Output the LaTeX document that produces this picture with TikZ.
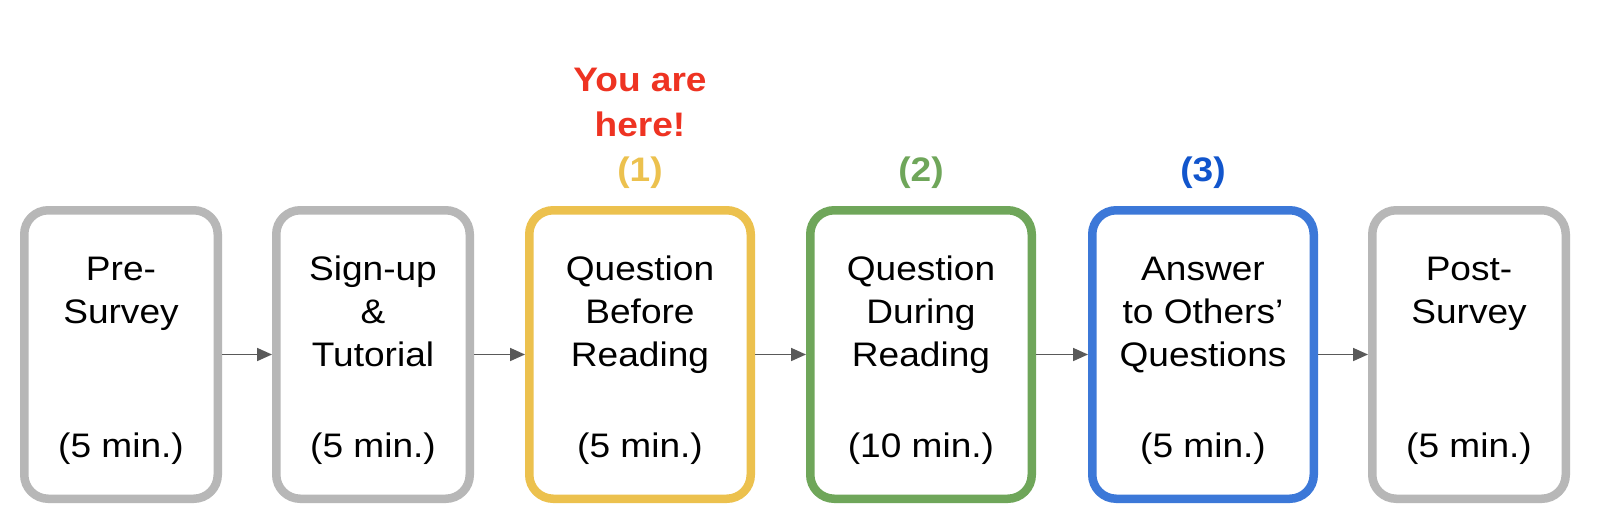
\documentclass[tikz,border=0pt]{standalone}
\usepackage{fontspec}
\setmainfont{Liberation Sans}[FakeStretch=1.09]
\usetikzlibrary{arrows.meta}
\definecolor{boxgray}{HTML}{B7B7B7}
\definecolor{boxyellow}{HTML}{ECC14E}
\definecolor{boxgreen}{HTML}{6FA65A}
\definecolor{boxblue}{HTML}{3C78D8}
\definecolor{numblue}{HTML}{1155CC}
\definecolor{herered}{HTML}{EE3322}
\definecolor{arrowgray}{HTML}{595959}
\newcommand\mystack[1]{\vtop{\halign{\hfil##\hfil\cr #1\crcr}}}
\begin{document}
\begin{tikzpicture}[x=1pt,y=-1pt,
  stagebox/.style={draw, line width=8.5pt, rounded corners=24pt, minimum height=288.5pt, inner sep=0pt},
  graybox/.style={stagebox, draw=boxgray, minimum width=193.5pt},
  colbox/.style={stagebox, minimum width=221.5pt},
  boxtext/.style={anchor=base, inner sep=0pt, font=\fontsize{34}{43}\selectfont},
  headtext/.style={anchor=base, inner sep=0pt, font=\fontsize{34}{45}\selectfont\bfseries},
  flow/.style={draw=arrowgray, line width=1.7pt, -{Triangle[length=15pt,width=13pt]}}
]
\useasboundingbox (0,0) rectangle (1600,530);
\fill[white] (0,0) rectangle (1600,530);

\node[graybox] (b1) at (121,354.5) {};
\node[graybox] (b2) at (373,354.5) {};
\node[colbox, draw=boxyellow] (b3) at (640,354.5) {};
\node[colbox, draw=boxgreen] (b4) at (921,354.5) {};
\node[colbox, draw=boxblue] (b5) at (1203,354.5) {};
\node[graybox] (b6) at (1469,354.5) {};

\node[boxtext] (t1) at (121,280) {\mystack{Pre-\cr Survey}};
\node[boxtext] (t2) at (373,280) {\mystack{Sign-up\cr \&\cr Tutorial}};
\node[boxtext] (t3) at (640,280) {\mystack{Question\cr Before\cr Reading}};
\node[boxtext] (t4) at (921,280) {\mystack{Question\cr During\cr Reading}};
\node[boxtext] (t5) at (1203,280) {\mystack{Answer\cr to Others’\cr Questions}};
\node[boxtext] (t6) at (1469,280) {\mystack{Post-\cr Survey}};

\node[boxtext] (m1) at (121,457) {(5 min.)};
\node[boxtext] (m2) at (373,457) {(5 min.)};
\node[boxtext] (m3) at (640,457) {(5 min.)};
\node[boxtext] (m4) at (921,457) {(10 min.)};
\node[boxtext] (m5) at (1203,457) {(5 min.)};
\node[boxtext] (m6) at (1469,457) {(5 min.)};

\node[headtext, text=herered] (here) at (640,91) {\mystack{You are\cr here!}};
\node[headtext, text=boxyellow] (n1) at (640,181) {(1)};
\node[headtext, text=boxgreen] (n2) at (921,181) {(2)};
\node[headtext, text=numblue] (n3) at (1203,181) {(3)};

\draw[flow] (b1.east) -- (b2.west);
\draw[flow] (b2.east) -- (b3.west);
\draw[flow] (b3.east) -- (b4.west);
\draw[flow] (b4.east) -- (b5.west);
\draw[flow] (b5.east) -- (b6.west);
\end{tikzpicture}
\end{document}
